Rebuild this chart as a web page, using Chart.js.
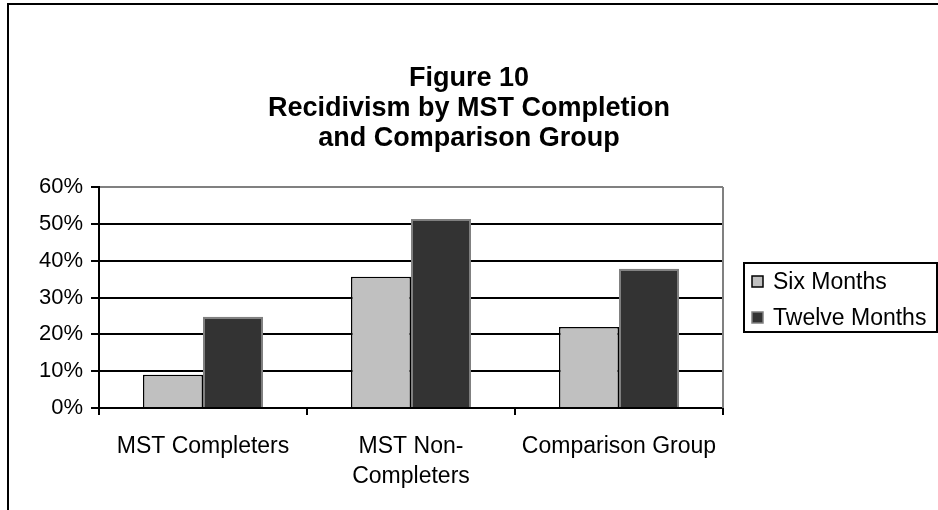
<!DOCTYPE html>
<html>
<head>
<meta charset="utf-8">
<script src="https://cdn.jsdelivr.net/npm/chart.js@4/dist/chart.umd.min.js"></script>
<style>
  html, body { margin: 0; padding: 0; background: #ffffff; }
  canvas { display: block; }
</style>
</head>
<body>
<canvas id="chart" width="938" height="510"></canvas>
<script>
// Recidivism rates (%) by group and follow-up period
const categories = [['MST Completers'], ['MST Non-', 'Completers'], ['Comparison Group']];
const seriesNames = ['Six Months', 'Twelve Months'];
const sixMonths = [9, 35.6, 22];
const twelveMonths = [24.8, 51.3, 37.8];
const titleLines = ['Figure 10', 'Recidivism by MST Completion', 'and Comparison Group'];

const FONT = '"Liberation Sans", Arial, Helvetica, sans-serif';
const fills = ['#c0c0c0', '#333333'];
const edges = ['#000000', '#808080'];

// Page frame, centred title, grey plot border and the boxed legend on the right
const decorations = {
  id: 'decorations',
  beforeDraw(chart) {
    const ctx = chart.ctx;
    ctx.save();
    ctx.fillStyle = '#ffffff';
    ctx.fillRect(0, 0, chart.width, chart.height);
    ctx.strokeStyle = '#000000';
    ctx.lineWidth = 2;
    ctx.beginPath();
    ctx.moveTo(8, chart.height + 2);
    ctx.lineTo(8, 4);
    ctx.lineTo(chart.width + 2, 4);
    ctx.stroke();

    ctx.fillStyle = '#000000';
    ctx.font = 'bold 27px ' + FONT;
    ctx.textAlign = 'center';
    ctx.textBaseline = 'middle';
    titleLines.forEach((line, i) => ctx.fillText(line, 469, 79 + i * 30));
    ctx.restore();
  },
  afterDatasetsDraw(chart) {
    const ctx = chart.ctx;
    const a = chart.chartArea;
    ctx.save();
    ctx.strokeStyle = '#808080';
    ctx.lineWidth = 2;
    ctx.beginPath();
    ctx.moveTo(a.right, a.top);
    ctx.lineTo(a.right, a.bottom);
    ctx.stroke();
    ctx.restore();
  },
  afterDraw(chart) {
    const ctx = chart.ctx;
    const box = { x: 744, y: 263, w: 193, h: 69 };
    ctx.save();
    ctx.strokeStyle = '#000000';
    ctx.lineWidth = 2;
    ctx.strokeRect(box.x, box.y, box.w, box.h);
    ctx.font = '23px ' + FONT;
    ctx.textBaseline = 'middle';
    chart.data.datasets.forEach((ds, i) => {
      const cy = 282 + i * 36;
      ctx.fillStyle = ds.backgroundColor;
      ctx.fillRect(752, cy - 6, 11, 11);
      ctx.strokeStyle = ds.borderColor;
      ctx.lineWidth = 1.5;
      ctx.strokeRect(752, cy - 6, 11, 11);
      ctx.fillStyle = '#000000';
      ctx.fillText(ds.label, 773, cy + 1);
    });
    ctx.restore();
  }
};

new Chart(document.getElementById('chart'), {
  type: 'bar',
  data: {
    labels: categories,
    datasets: [
      { label: seriesNames[0], data: sixMonths, backgroundColor: fills[0], borderColor: edges[0], borderWidth: 1.5 },
      { label: seriesNames[1], data: twelveMonths, backgroundColor: fills[1], borderColor: edges[1], borderWidth: 2 }
    ]
  },
  options: {
    responsive: false,
    animation: false,
    devicePixelRatio: 1,
    layout: { padding: { left: 0, right: 215, top: 187, bottom: 0 } },
    datasets: { bar: { categoryPercentage: 0.577, barPercentage: 1 } },
    plugins: {
      legend: { display: false },
      tooltip: { enabled: false },
      title: { display: false }
    },
    scales: {
      x: {
        afterFit(scale) { scale.height = 102; },
        grid: { offset: true, drawOnChartArea: false, color: '#000000', lineWidth: 2, tickLength: 7 },
        border: { color: '#000000', width: 2 },
        ticks: { color: '#000000', font: { family: FONT, size: 23, lineHeight: 1.28 }, padding: 17, maxRotation: 0, autoSkip: false }
      },
      y: {
        min: 0,
        max: 60,
        afterFit(scale) { scale.width = 99; },
        grid: {
          color: (c) => (c.tick && c.tick.value === 60 ? '#808080' : '#000000'),
          tickColor: '#000000',
          lineWidth: 2,
          tickLength: 8
        },
        border: { color: '#000000', width: 2 },
        ticks: {
          stepSize: 10,
          color: '#000000',
          padding: 8,
          font: { family: FONT, size: 22 },
          callback: (v) => v + '%'
        }
      }
    }
  },
  plugins: [decorations]
});
</script>
</body>
</html>
